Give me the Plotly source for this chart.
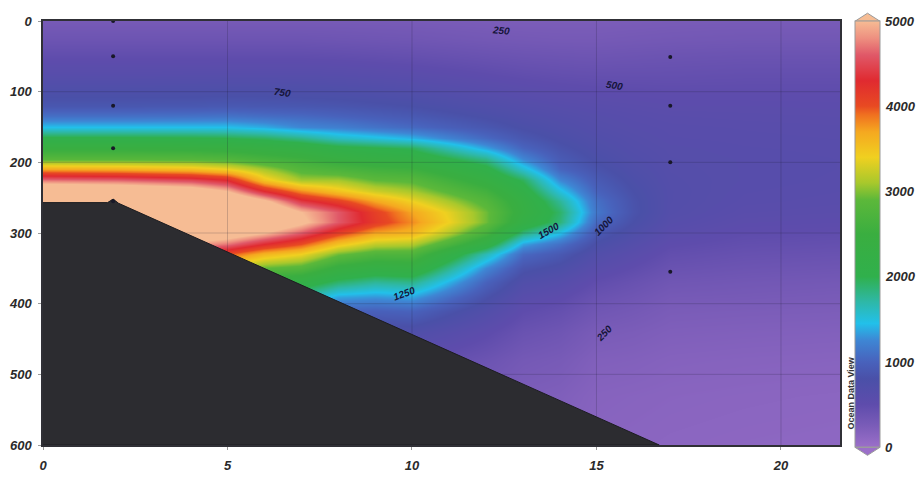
import numpy as np
import plotly.graph_objects as go

# ---------------- data ----------------
distance = [0, 2, 4, 5, 6, 7, 8, 9, 10, 11, 12, 13, 14, 15, 16, 17, 19, 22]
depth = [0, 25, 50, 75, 100, 120, 135, 150, 165, 180, 195, 210, 225, 240, 255,
         270, 285, 300, 315, 330, 350, 370, 390, 410, 440, 480, 530, 600]

# one profile (values vs depth) per distance column
p00 = [280,370,480,600,750,880,1100,1450,2050,2450,2850,3700,4700,5600,6200,6500,6400,6200,5800,5300,4600,3800,3000,2300,1600,1000,650,450]
p02 = [280,370,480,600,750,880,1100,1450,2050,2450,2850,3650,4650,5500,6100,6400,6300,6000,5600,5000,4200,3400,2600,2000,1400,900,600,400]
p04 = [280,370,480,605,755,890,1110,1450,2030,2430,2830,3550,4500,5300,5900,6200,6000,5500,4900,4200,3400,2700,2000,1500,1050,700,470,340]
p05 = [280,370,480,610,760,900,1120,1450,2000,2400,2780,3400,4300,5000,5600,6000,5800,5300,4700,4000,3200,2500,1850,1350,900,600,400,300]
p06 = [280,370,480,610,760,890,1080,1380,1930,2330,2650,3100,3500,4300,5100,5600,5500,5000,4300,3600,2900,2300,1700,1250,850,550,380,280]
p07 = [280,370,480,610,750,880,1050,1250,1800,2250,2550,2800,3100,3800,4400,5000,5100,4600,4000,3400,2800,2200,1700,1300,900,560,380,270]
p08 = [280,360,470,600,740,860,1000,1200,1600,2100,2400,2700,3100,3500,4100,4600,4600,4100,3500,2950,2400,1900,1350,1000,700,480,330,250]
p09 = [275,350,455,580,715,830,950,1120,1500,2030,2300,2600,2900,3250,3700,4100,4150,3700,3200,2750,2250,1750,1300,975,710,490,335,250]
p10 = [270,340,440,560,690,800,900,1050,1400,1950,2250,2550,2850,3100,3400,3700,3800,3600,3150,2750,2300,1800,1350,1000,720,500,340,250]
p11 = [260,325,420,530,650,750,840,965,1225,1650,2030,2330,2600,2850,3100,3350,3400,3150,2700,2200,1780,1400,1080,840,620,440,310,235]
p12 = [250,310,400,500,610,700,780,880,1050,1350,1800,2100,2350,2600,2800,2950,2950,2650,2200,1650,1250,1000,820,680,520,380,280,220]
p13 = [240,300,380,470,570,650,710,780,880,1020,1250,1550,1950,2150,2300,2350,2250,1850,1350,1050,850,700,590,500,400,300,230,190]
p14 = [240,290,370,450,540,610,660,710,770,840,920,1020,1250,1500,1750,1900,1850,1450,1100,900,750,620,520,440,350,270,210,170]
p15 = [240,290,360,440,520,580,620,650,690,730,780,840,920,1000,1100,1150,1050,900,780,680,580,480,400,340,260,200,160,140]
p16 = [250,300,370,440,510,560,590,610,640,660,690,720,760,800,830,840,800,720,640,570,490,410,350,300,240,190,150,130]
p17 = [260,310,380,440,500,540,570,590,600,620,630,640,650,660,660,650,620,570,510,460,400,340,290,250,210,170,140,120]
p19 = [270,320,390,450,500,540,560,580,590,600,610,610,610,600,590,570,540,500,460,420,370,320,280,240,200,160,130,110]
p22 = [270,320,390,450,500,530,550,570,580,590,595,595,590,580,570,550,520,480,440,400,350,300,260,230,190,150,120,100]
profiles = [p00, p02, p04, p05, p06, p07, p08, p09, p10, p11, p12, p13, p14, p15, p16, p17, p19, p22]

# bottom topography
bottom_x = [0, 1.75, 1.9, 2.05, 16.7, 16.7, 0]
bottom_depth = [257, 257, 252, 258, 600, 600, 600]

# sample stations
stn_x = [1.9, 1.9, 1.9, 1.9, 1.9, 17.0, 17.0, 17.0, 17.0]
stn_depth = [0, 50, 120, 180, 255, 51, 120, 200, 355]

# contour labels
clab_text = ["250", "750", "500", "1500", "1000", "1250", "250"]
clab_x = [12.4, 6.5, 15.5, 13.7, 15.2, 9.8, 15.2]
clab_depth = [13, 101, 91, 296, 289, 386, 442]
clab_angle = [5, 8, 10, -30, -45, -20, -45]

x_ticks = [0, 5, 10, 15, 20]
y_ticks = [0, 100, 200, 300, 400, 500, 600]
cb_ticks = [0, 1000, 2000, 3000, 4000, 5000]
z_min, z_max = 0, 5000
x_max = 21.6

# ---------------- figure ----------------
field = np.array(profiles).T  # rows = depth, cols = distance

cscale = [
    [0.00, "#9b6fc9"], [0.05, "#7a5cb8"], [0.10, "#5e4cac"], [0.16, "#4a50a8"],
    [0.20, "#4862bc"], [0.25, "#3e86d4"], [0.29, "#22c0ea"], [0.34, "#2eb8a8"],
    [0.40, "#30b04c"], [0.50, "#3aae40"], [0.58, "#5cb83a"], [0.62, "#a8c82c"],
    [0.68, "#f0d020"], [0.74, "#f5a820"], [0.78, "#f07020"], [0.80, "#e84a22"],
    [0.86, "#e02a30"], [0.92, "#e05868"], [0.96, "#ee9080"], [1.00, "#f6bc94"],
]

FONT = "Liberation Sans, Arial"
tickfont = dict(family=FONT, size=13, color="#2a2a2a", weight="bold", style="italic")

cb_y, cb_len_px, plot_h_px = 0.497, 426, 424
cb_bottom = cb_y - 0.5 * cb_len_px / plot_h_px
cb_span = cb_len_px / plot_h_px

fig = go.Figure()
fig.add_trace(go.Heatmap(
    x=distance, y=depth, z=field, zmin=z_min, zmax=z_max, zsmooth="best",
    colorscale=cscale, hoverinfo="skip",
    colorbar=dict(
        x=1.0188, xanchor="left", xpad=0, ypad=0,
        y=cb_y, yanchor="middle", lenmode="pixels", len=cb_len_px,
        thickness=25, outlinewidth=1, outlinecolor="#9a9a9a",
        tickvals=cb_ticks, showticklabels=False, ticks="",
    ),
))

# faint grid lines (above the field, below topography)
for xv in x_ticks[1:]:
    fig.add_trace(go.Scatter(x=[xv, xv], y=[y_ticks[0], y_ticks[-1]], mode="lines",
                             line=dict(color="rgba(30,30,50,0.2)", width=1),
                             hoverinfo="skip", showlegend=False))
for yv in y_ticks[1:-1]:
    fig.add_trace(go.Scatter(x=[0, x_max], y=[yv, yv], mode="lines",
                             line=dict(color="rgba(30,30,50,0.2)", width=1),
                             hoverinfo="skip", showlegend=False))

fig.add_trace(go.Scatter(
    x=bottom_x, y=bottom_depth, fill="toself", fillcolor="#2c2c30",
    mode="lines", line=dict(color="#1c1c20", width=1),
    hoverinfo="skip", showlegend=False))

fig.add_trace(go.Scatter(
    x=stn_x, y=stn_depth, mode="markers",
    marker=dict(size=4, color="#181828"), hoverinfo="skip", showlegend=False))

for t, xv, yv, a in zip(clab_text, clab_x, clab_depth, clab_angle):
    fig.add_annotation(x=xv, y=yv, text=t, showarrow=False, textangle=a,
                       font=dict(family=FONT, size=10, color="#15153a",
                                 weight="bold", style="italic"))

# colorbar tick labels
for v in cb_ticks:
    fig.add_annotation(xref="paper", yref="paper", x=1.0545, xanchor="left",
                       y=cb_bottom + v / z_max * cb_span, yanchor="middle",
                       text=str(v), showarrow=False, font=tickfont)

# colorbar end triangles
top_y = cb_bottom + cb_span
fig.add_shape(type="path", xref="paper", yref="paper",
              path=f"M 1.0188 {top_y:.4f} L 1.0502 {top_y:.4f} L 1.0345 {top_y + 0.019:.4f} Z",
              fillcolor="#f6bc94", line=dict(color="#9a9a9a", width=1))
fig.add_shape(type="path", xref="paper", yref="paper",
              path=f"M 1.0188 {cb_bottom:.4f} L 1.0502 {cb_bottom:.4f} L 1.0345 {cb_bottom - 0.019:.4f} Z",
              fillcolor="#9b6fc9", line=dict(color="#9a9a9a", width=1))

fig.add_annotation(xref="paper", yref="paper", x=1.0135, y=0.123,
                   xanchor="center", yanchor="middle",
                   text="Ocean Data View", showarrow=False, textangle=-90,
                   font=dict(family=FONT, size=9, color="#333333", weight="bold"))

axis_common = dict(showgrid=False, zeroline=False, showline=True, mirror=True,
                   linecolor="#303036", linewidth=1.5, ticks="outside",
                   ticklen=3, tickcolor="#9a9a9a", tickfont=tickfont,
                   automargin=False)
fig.update_xaxes(range=[0, x_max], tickvals=x_ticks, ticklabelstandoff=5, **axis_common)
fig.update_yaxes(range=[600, 0], tickvals=y_ticks, ticklabelstandoff=4, **axis_common)

fig.update_layout(
    width=917, height=477,
    margin=dict(l=43, r=77, t=21, b=32, autoexpand=False),
    paper_bgcolor="white", plot_bgcolor="white",
    showlegend=False,
)

fig.write_html("out.html", config={"displayModeBar": False},
               post_script="document.body.style.margin='0';document.body.style.overflow='hidden';")
